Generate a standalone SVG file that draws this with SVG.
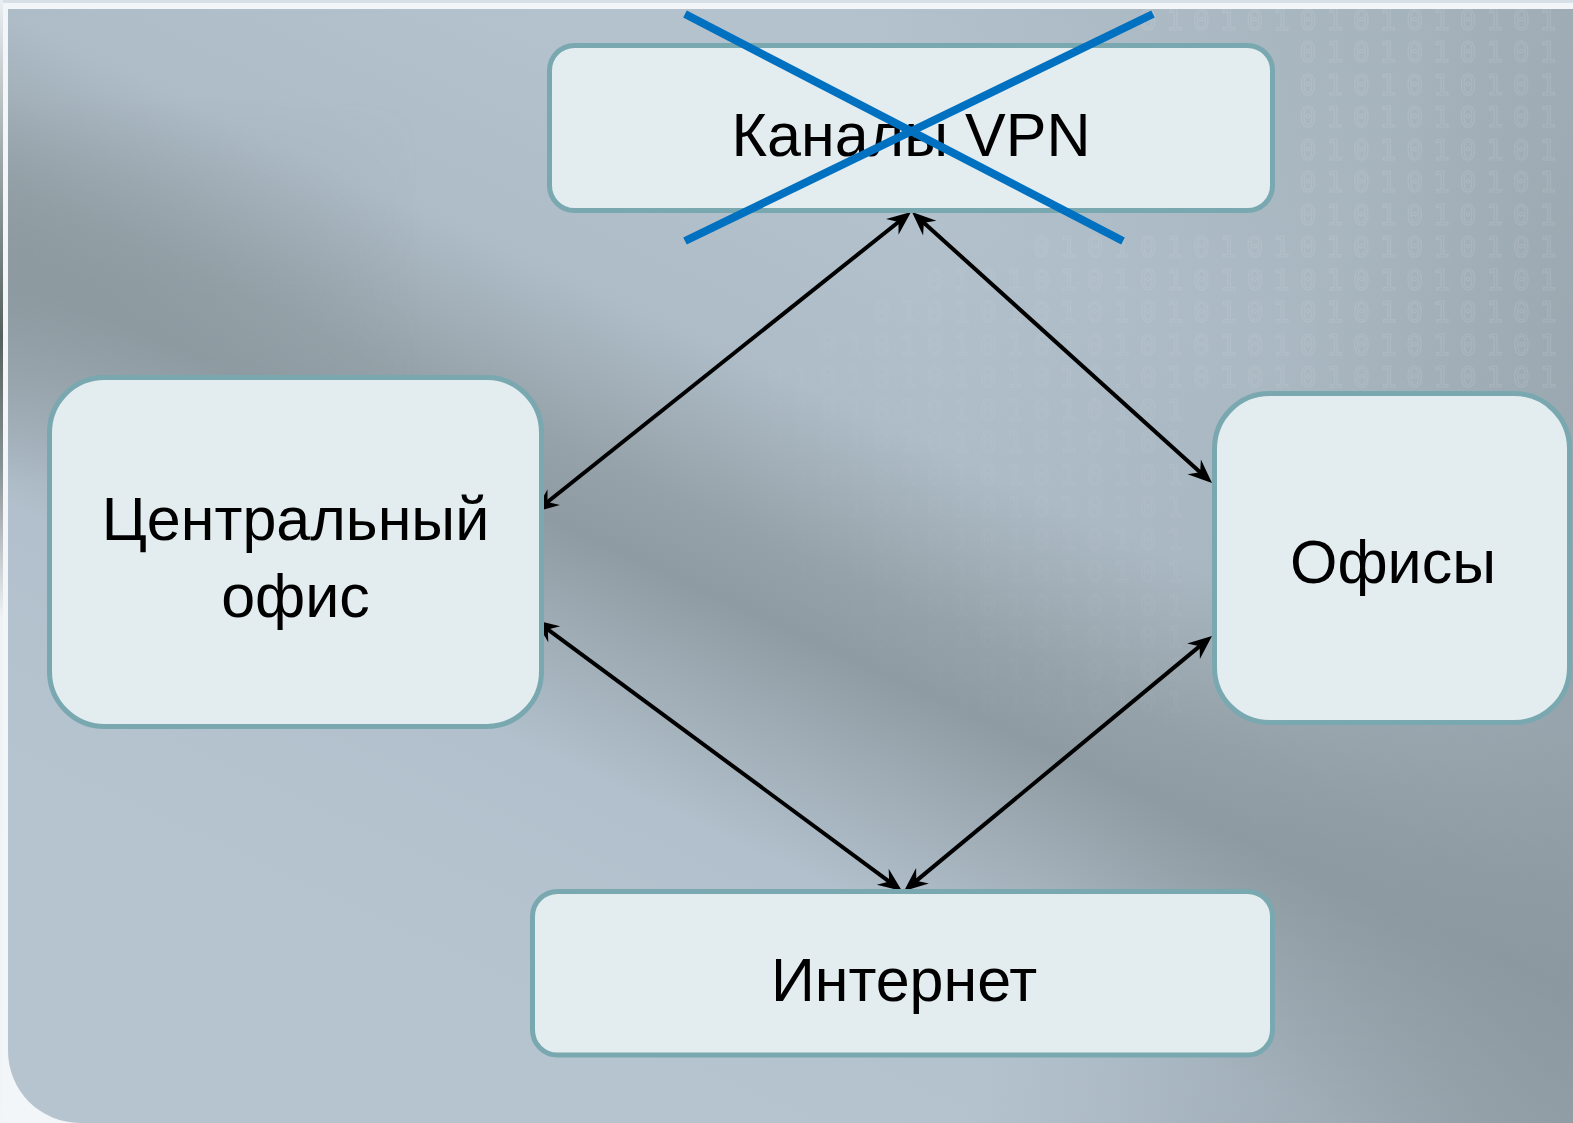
<svg xmlns="http://www.w3.org/2000/svg" width="1573" height="1123" viewBox="0 0 1573 1123">
  <style>
    .node rect { fill: #e3ecef; stroke: #7aa8b0; stroke-width: 5; }
    .node text { font-family: "Liberation Sans", Arial, sans-serif; font-size: 61px; fill: #000; text-anchor: middle; }
    .conn line { stroke: #000; stroke-width: 4; marker-start: url(#ah); marker-end: url(#ah); }
    .cross line { stroke: #0070c0; stroke-width: 8; }
    .bin text { font-family: "DejaVu Sans Mono", monospace; font-size: 28px; letter-spacing: 9.8px; fill: none; stroke: #ffffff; stroke-width: 1.2; }
  </style>
  <defs>
    <linearGradient id="bg" gradientUnits="userSpaceOnUse" x1="980" y1="220" x2="600" y2="1040">
      <stop offset="0" stop-color="#b3c2cd"/>
      <stop offset="0.25" stop-color="#adbcc7"/>
      <stop offset="0.42" stop-color="#96a2a9"/>
      <stop offset="0.5" stop-color="#8f9ba2"/>
      <stop offset="0.6" stop-color="#9eabb4"/>
      <stop offset="0.74" stop-color="#b1c0cc"/>
      <stop offset="1" stop-color="#b6c4d0"/>
    </linearGradient>
    <linearGradient id="tr" gradientUnits="userSpaceOnUse" x1="900" y1="200" x2="1500" y2="60">
      <stop offset="0" stop-color="#8f9ba2" stop-opacity="0"/>
      <stop offset="1" stop-color="#8f9ba2" stop-opacity="0.45"/>
    </linearGradient>
    <linearGradient id="br" gradientUnits="userSpaceOnUse" x1="1100" y1="800" x2="1573" y2="1000">
      <stop offset="0" stop-color="#8a969d" stop-opacity="0"/>
      <stop offset="1" stop-color="#8a969d" stop-opacity="0.6"/>
    </linearGradient>
    <linearGradient id="tl" gradientUnits="userSpaceOnUse" x1="0" y1="290" x2="420" y2="290">
      <stop offset="0" stop-color="#8c989e" stop-opacity="0.7"/>
      <stop offset="1" stop-color="#8c989e" stop-opacity="0"/>
    </linearGradient>
    <linearGradient id="tlv" x1="0" y1="0" x2="0" y2="1">
      <stop offset="0" stop-color="#fff" stop-opacity="0"/>
      <stop offset="0.5" stop-color="#fff" stop-opacity="1"/>
      <stop offset="1" stop-color="#fff" stop-opacity="0"/>
    </linearGradient>
    <mask id="tlmask" maskUnits="userSpaceOnUse" x="0" y="100" width="500" height="380">
      <rect x="0" y="100" width="500" height="380" fill="url(#tlv)"/>
    </mask>
    <linearGradient id="binfade" gradientUnits="userSpaceOnUse" x1="760" y1="620" x2="1250" y2="160">
      <stop offset="0" stop-color="#fff" stop-opacity="0"/>
      <stop offset="1" stop-color="#fff" stop-opacity="1"/>
    </linearGradient>
    <mask id="binmask" maskUnits="userSpaceOnUse" x="0" y="0" width="1573" height="1123">
      <rect x="0" y="0" width="1573" height="1123" fill="url(#binfade)"/>
    </mask>
    <linearGradient id="leftedge" x1="0" y1="0" x2="0" y2="1">
      <stop offset="0" stop-color="#e9eef1"/>
      <stop offset="0.15" stop-color="#9aa3a6"/>
      <stop offset="0.3" stop-color="#555f5c"/>
      <stop offset="0.42" stop-color="#8a9396"/>
      <stop offset="0.55" stop-color="#eef2f5"/>
      <stop offset="1" stop-color="#f2f5f8"/>
    </linearGradient>
    <marker id="ah" viewBox="-16 -11 28 22" refX="0" refY="0" markerWidth="28" markerHeight="22" markerUnits="userSpaceOnUse" orient="auto-start-reverse">
      <path d="M10,0 L-14,-10 L-6,0 L-14,10 Z" fill="#000"/>
    </marker>
  </defs>

  <!-- slide frame -->
  <rect x="0" y="0" width="1573" height="1123" fill="#f3f6f8"/>
  <rect x="0" y="0" width="1573" height="3" fill="#d6e0e6"/>
  <rect x="0" y="0" width="3" height="1123" fill="url(#leftedge)"/>
  <path d="M8,9 H1573 V1123 H80 A72,72 0 0 1 8,1051 Z" fill="url(#bg)"/>
  <path d="M8,9 H1573 V1123 H80 A72,72 0 0 1 8,1051 Z" fill="url(#tr)"/>
  <path d="M8,9 H1573 V1123 H80 A72,72 0 0 1 8,1051 Z" fill="url(#br)"/>
  <rect x="8" y="100" width="500" height="380" fill="url(#tl)" mask="url(#tlmask)"/>

  <!-- binary texture -->
  <g class="bin" mask="url(#binmask)" opacity="0.1">
    <text x="1139.7" y="30">0101010101010101</text>
    <text x="1299.6" y="62">0101010101</text>
    <text x="1299.6" y="95">0101010101</text>
    <text x="1299.6" y="127">0101010101</text>
    <text x="1299.6" y="160">0101010101</text>
    <text x="1299.6" y="192">0101010101</text>
    <text x="1299.6" y="225">0101010101</text>
    <text x="1033.1" y="257">01010101010101010101</text>
    <text x="926.5" y="290">010101010101010101010101</text>
    <text x="873.2" y="322">01010101010101010101010101</text>
    <text x="819.9" y="355">0101010101010101010101010101</text>
    <text x="766.6" y="387">010101010101010101010101010101</text>
    <text x="766.6" y="420">0101010101010101</text>
    <text x="766.6" y="452">0101010101010101</text>
    <text x="766.6" y="485">0101010101010101</text>
    <text x="766.6" y="517">0101010101010101</text>
    <text x="766.6" y="550">0101010101010101</text>
    <text x="766.6" y="582">0101010101010101</text>
    <text x="766.6" y="615">0101010101010101</text>
    <text x="766.6" y="647">0101010101010101</text>
    <text x="766.6" y="680">0101010101010101</text>
    <text x="766.6" y="712">0101010101010101</text>
  </g>

  <!-- connectors -->
  <g id="connectors" class="conn">
    <line x1="903.2" y1="218.2" x2="542.8" y2="505.8"/>
    <line x1="919.4" y1="218.7" x2="1204.6" y2="476.3"/>
    <line x1="543.0" y1="625.9" x2="894.0" y2="885.1"/>
    <line x1="911.7" y1="884.6" x2="1204.3" y2="642.4"/>
  </g>

  <!-- nodes -->
  <g id="node-vpn" class="node">
    <rect x="549.5" y="45.5" width="723" height="165" rx="25"/>
    <text x="911" y="156">Каналы VPN</text>
  </g>
  <g id="node-central" class="node">
    <rect x="49.5" y="377.5" width="492" height="349" rx="55"/>
    <text x="295.5" y="540">Центральный</text>
    <text x="295.5" y="617">офис</text>
  </g>
  <g id="node-offices" class="node">
    <rect x="1214.5" y="393.5" width="355" height="329" rx="55"/>
    <text x="1393" y="583">Офисы</text>
  </g>
  <g id="node-internet" class="node">
    <rect x="532.5" y="891.5" width="740" height="163.5" rx="25"/>
    <text x="904" y="1001">Интернет</text>
  </g>

  <!-- cross-out over VPN channels -->
  <g id="cross" class="cross">
    <line x1="685" y1="14" x2="1123" y2="241"/>
    <line x1="1153" y1="14" x2="685" y2="241"/>
  </g>
</svg>
